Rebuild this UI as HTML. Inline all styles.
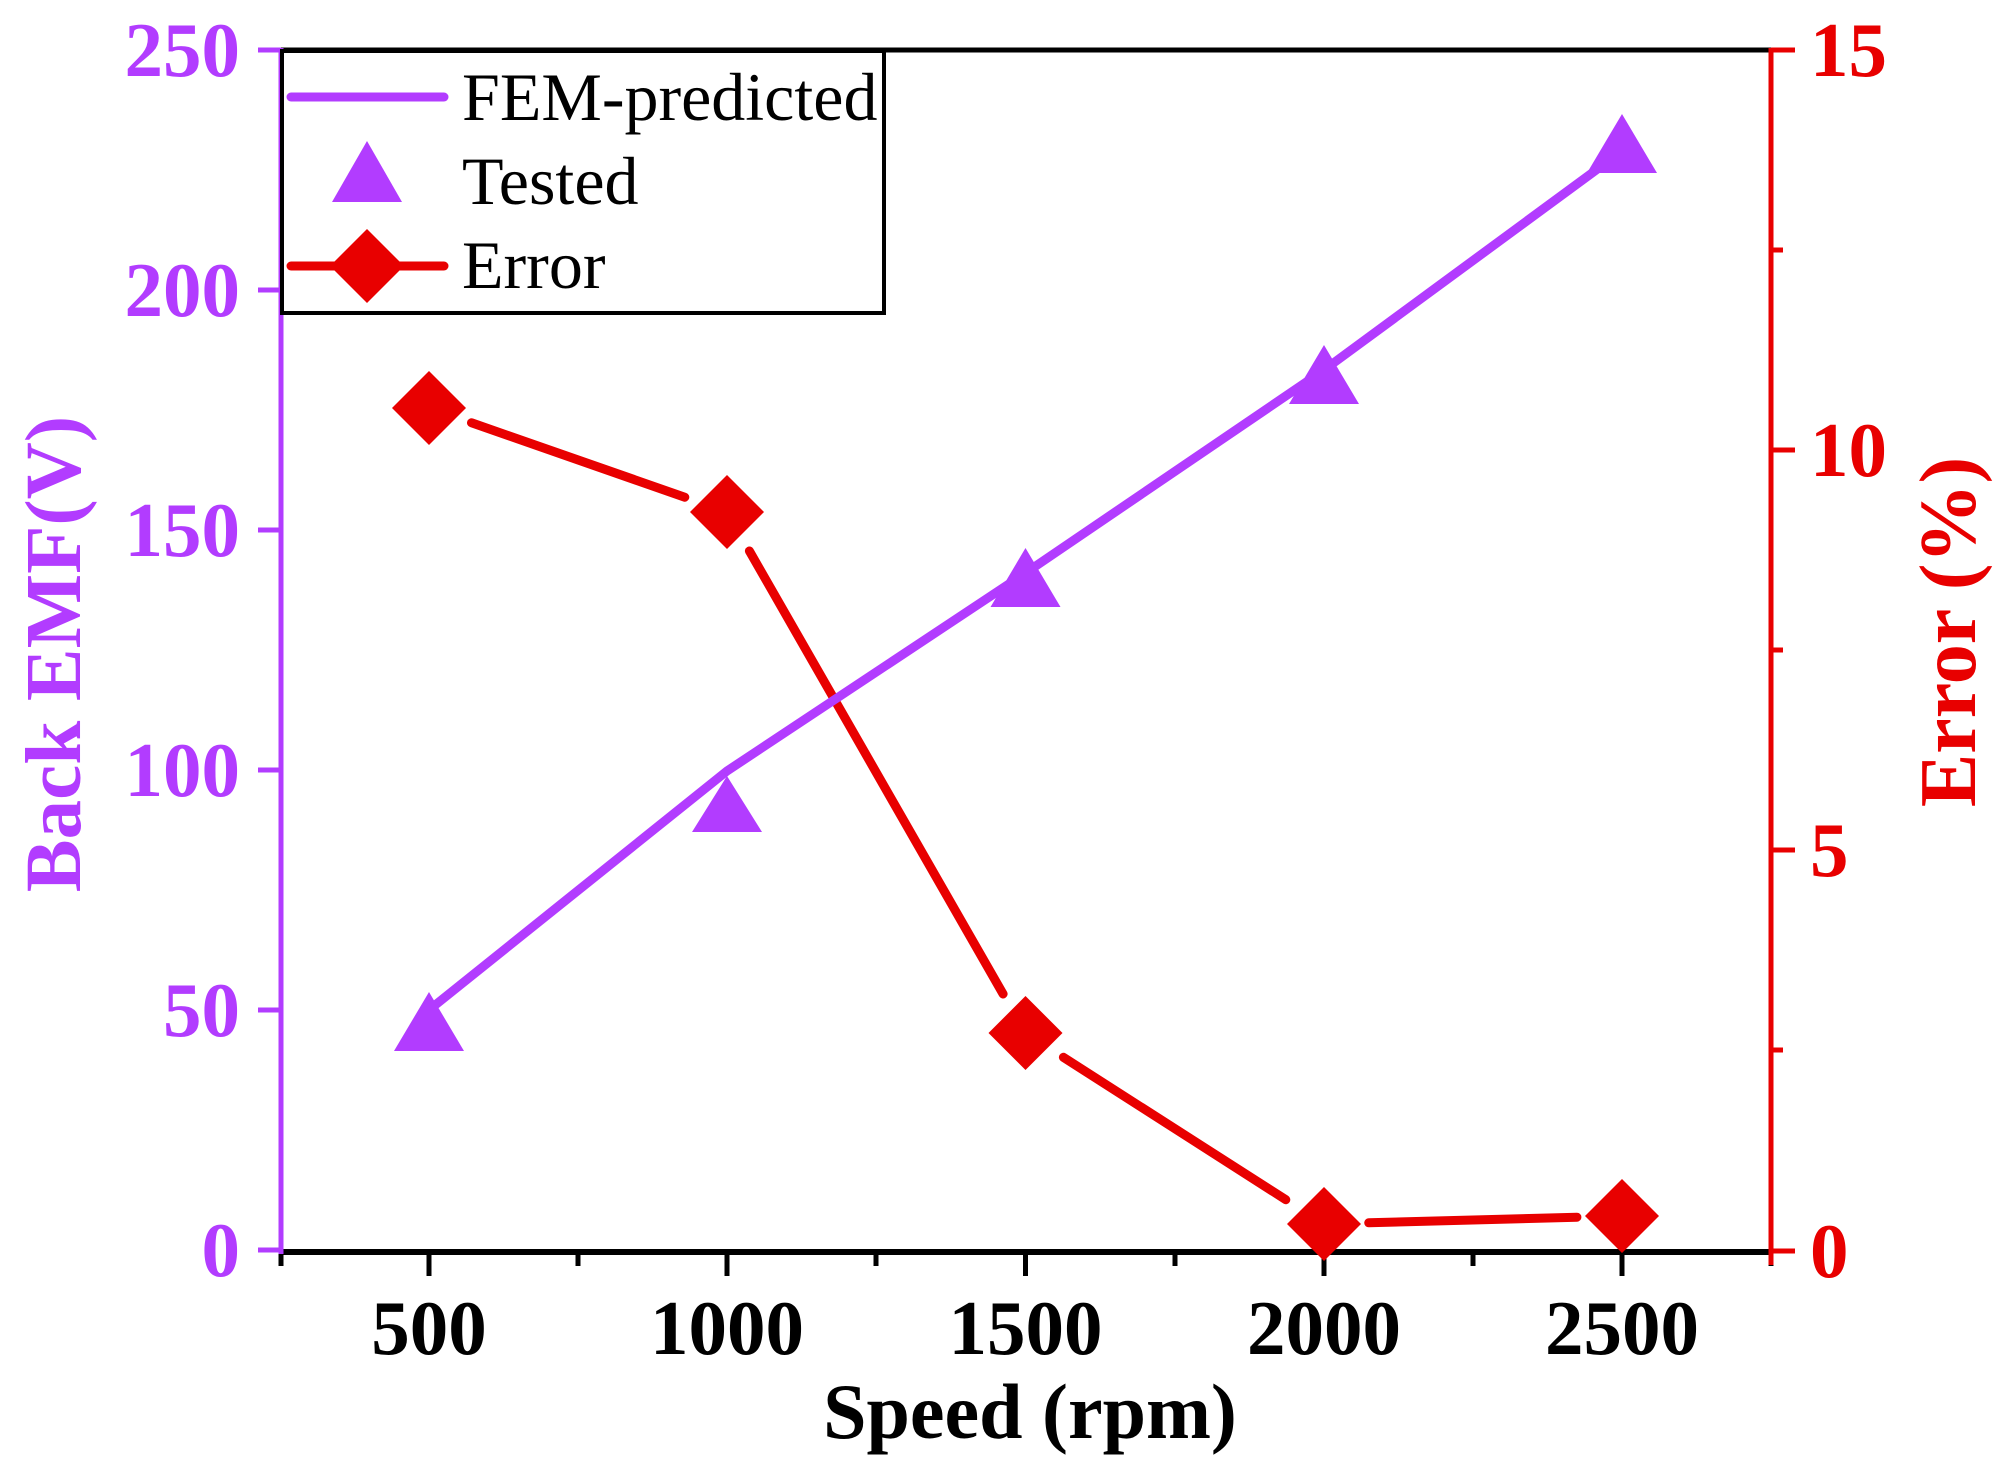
<!DOCTYPE html>
<html><head><meta charset="utf-8"><style>html,body{margin:0;padding:0;background:#fff}svg{display:block}</style></head>
<body>
<svg width="2013" height="1476" viewBox="0 0 2013 1476" xmlns="http://www.w3.org/2000/svg" font-family="'Liberation Serif', serif">
<rect width="2013" height="1476" fill="#fff"/>
<line x1="280" y1="50" x2="1771" y2="50" stroke="#000" stroke-width="5"/>
<line x1="280" y1="1252" x2="1771" y2="1252" stroke="#000" stroke-width="6"/>
<g stroke="#000" stroke-width="5">
<line x1="281" y1="1252" x2="281" y2="1266"/>
<line x1="429" y1="1252" x2="429" y2="1276"/>
<line x1="578" y1="1252" x2="578" y2="1266"/>
<line x1="727" y1="1252" x2="727" y2="1276"/>
<line x1="876" y1="1252" x2="876" y2="1266"/>
<line x1="1025.5" y1="1252" x2="1025.5" y2="1276"/>
<line x1="1175" y1="1252" x2="1175" y2="1266"/>
<line x1="1324" y1="1252" x2="1324" y2="1276"/>
<line x1="1473" y1="1252" x2="1473" y2="1266"/>
<line x1="1622" y1="1252" x2="1622" y2="1276"/>
<line x1="1771" y1="1252" x2="1771" y2="1266"/>
</g>
<g font-size="77" font-weight="bold" fill="#000" text-anchor="middle">
<text x="429" y="1354">500</text>
<text x="727" y="1354">1000</text>
<text x="1025.5" y="1354">1500</text>
<text x="1324" y="1354">2000</text>
<text x="1622" y="1354">2500</text>
</g>
<text x="1030" y="1438" font-size="78" font-weight="bold" text-anchor="middle" fill="#000">Speed (rpm)</text>
<line x1="281" y1="48" x2="281" y2="1254" stroke="#b23cff" stroke-width="5"/>
<g stroke="#b23cff" stroke-width="5">
<line x1="258" y1="1250" x2="281" y2="1250"/>
<line x1="258" y1="1010" x2="281" y2="1010"/>
<line x1="258" y1="770" x2="281" y2="770"/>
<line x1="258" y1="530" x2="281" y2="530"/>
<line x1="258" y1="290" x2="281" y2="290"/>
<line x1="258" y1="50" x2="281" y2="50"/>
</g>
<g font-size="77" font-weight="bold" fill="#b23cff" text-anchor="end">
<text x="240" y="1276">0</text>
<text x="240" y="1036">50</text>
<text x="240" y="796">100</text>
<text x="240" y="556">150</text>
<text x="240" y="316">200</text>
<text x="240" y="76">250</text>
</g>
<text transform="translate(80,654) rotate(-90)" font-size="79" font-weight="bold" fill="#b23cff" text-anchor="middle">Back EMF(V)</text>
<line x1="1771" y1="48" x2="1771" y2="1265" stroke="#e80000" stroke-width="5"/>
<g stroke="#e80000" stroke-width="5">
<line x1="1771" y1="1251" x2="1795" y2="1251"/>
<line x1="1771" y1="1050" x2="1783" y2="1050"/>
<line x1="1771" y1="850" x2="1795" y2="850"/>
<line x1="1771" y1="650" x2="1783" y2="650"/>
<line x1="1771" y1="450" x2="1795" y2="450"/>
<line x1="1771" y1="250" x2="1783" y2="250"/>
<line x1="1771" y1="50" x2="1795" y2="50"/>
</g>
<g font-size="77" font-weight="bold" fill="#e80000" text-anchor="start">
<text x="1810" y="1277">0</text>
<text x="1810" y="876">5</text>
<text x="1810" y="476">10</text>
<text x="1810" y="76">15</text>
</g>
<text transform="translate(1975,632) rotate(-90)" font-size="80" font-weight="bold" fill="#e80000" text-anchor="middle">Error (%)</text>
<g stroke="#e80000" stroke-width="9" stroke-linecap="round" fill="none">
<line x1="471.5" y1="422.8" x2="684.8" y2="497.2"/>
<line x1="749.4" y1="551" x2="1003.1" y2="994"/>
<line x1="1063.4" y1="1057.3" x2="1285.8" y2="1199.7"/>
<line x1="1368.7" y1="1222.8" x2="1576.9" y2="1217.2"/>
</g>
<polyline points="429,1010 727,771 1025.5,573 1324,370 1622,151" stroke="#b23cff" stroke-width="9" fill="none" stroke-linecap="round"/>
<g fill="#b23cff">
<polygon points="429,992 394,1051 464,1051"/>
<polygon points="727,776 692,832 762,832"/>
<polygon points="1025.5,548 990.5,607 1060.5,607"/>
<polygon points="1324,345 1289,404 1359,404"/>
<polygon points="1622,114 1587,173 1657,173"/>
</g>
<g fill="#e80000">
<polygon points="429,371 466,408 429,445 392,408"/>
<polygon points="727,475 764,512 727,549 690,512"/>
<polygon points="1025.5,996 1062.5,1033 1025.5,1070 988.5,1033"/>
<polygon points="1324,1187 1361,1224 1324,1261 1287,1224"/>
<polygon points="1622,1179 1659,1216 1622,1253 1585,1216"/>
</g>
<rect x="282" y="51" width="602" height="262" fill="#fff" stroke="#000" stroke-width="4"/>
<line x1="291" y1="97" x2="444" y2="97" stroke="#b23cff" stroke-width="9" stroke-linecap="round"/>
<polygon points="367,141 332,202 402,202" fill="#b23cff"/>
<line x1="291" y1="266" x2="444" y2="266" stroke="#e80000" stroke-width="9" stroke-linecap="round"/>
<polygon points="367,229 404,266 367,303 330,266" fill="#e80000"/>
<g font-size="68" fill="#000">
<text x="462" y="120">FEM-predicted</text>
<text x="462" y="204">Tested</text>
<text x="462" y="288">Error</text>
</g>
</svg>
</body></html>
